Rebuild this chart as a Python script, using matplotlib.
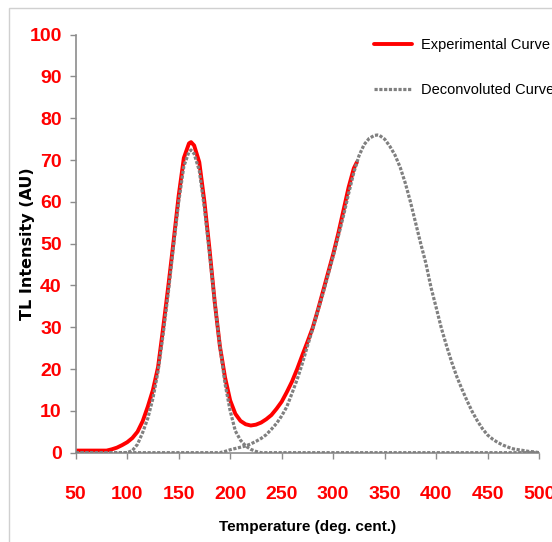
import matplotlib
matplotlib.use('Agg')
import matplotlib.pyplot as plt
from matplotlib.patches import Rectangle

# --- data ---
temp_exp = [50, 80, 85, 90, 95, 100, 105, 110, 115, 120, 125, 130, 135, 140, 145,
            150, 155, 160, 162, 165, 170, 175, 180, 185, 190, 195, 200, 205, 210,
            215, 220, 225, 230, 235, 240, 245, 250, 255, 260, 265, 270, 275, 280,
            285, 290, 295, 300, 305, 310, 315, 320, 323]
tl_exp = [0.5, 0.5, 0.8, 1.2, 1.8, 2.5, 3.5, 5.0, 7.5, 11.0, 15.0, 20.5, 30.0, 40.0, 50.5,
          61.5, 70.5, 74.0, 74.3, 73.5, 69.5, 60.0, 48.5, 36.0, 25.5, 18.0, 12.5, 9.3, 7.6,
          6.8, 6.5, 6.7, 7.2, 8.0, 9.0, 10.5, 12.2, 14.5, 17.0, 20.0, 23.3, 26.5, 29.8,
          34.0, 38.5, 43.0, 47.5, 52.5, 58.0, 63.5, 68.0, 69.5]

temp_peak1 = [50, 100, 105, 110, 115, 120, 125, 130, 135, 140, 145, 150, 155, 160, 162,
              165, 170, 175, 180, 185, 190, 195, 200, 205, 210, 215, 220, 225, 230, 500]
tl_peak1 = [0, 0, 0.5, 2.0, 4.8, 8.2, 13.0, 19.5, 28.5, 38.5, 49.5, 60.0, 68.5, 72.0, 72.4,
            71.5, 67.5, 58.5, 47.5, 36.0, 25.5, 16.5, 10.0, 5.2, 3.0, 1.6, 0.8, 0.3, 0, 0]

temp_peak2 = [50, 190, 195, 200, 205, 210, 215, 220, 225, 230, 235, 240, 245, 250, 255,
              260, 265, 270, 275, 280, 285, 290, 295, 300, 305, 310, 315, 320, 325, 330,
              335, 340, 343, 345, 350, 355, 360, 365, 370, 375, 380, 385, 390, 395, 400,
              405, 410, 415, 420, 425, 430, 435, 440, 445, 450, 455, 460, 465, 470, 475,
              480, 485, 490, 495, 500]
tl_peak2 = [0, 0, 0.3, 0.7, 1.0, 1.3, 1.6, 2.1, 2.7, 3.4, 4.3, 5.6, 7.0, 8.8, 11.0,
            14.2, 17.5, 21.3, 25.5, 29.5, 33.8, 38.0, 42.5, 47.0, 51.8, 56.7, 62.0, 67.0, 71.0, 73.7,
            75.2, 75.9, 76.0, 75.9, 75.0, 73.3, 71.2, 68.3, 64.5, 60.0, 55.0, 50.0, 45.3, 39.5, 34.7,
            29.8, 25.6, 21.7, 18.2, 15.2, 12.4, 9.8, 7.6, 5.7, 4.2, 3.2, 2.4, 1.8, 1.3, 0.9,
            0.7, 0.5, 0.3, 0.2, 0]

x_ticks = [50, 100, 150, 200, 250, 300, 350, 400, 450, 500]
y_ticks = [0, 10, 20, 30, 40, 50, 60, 70, 80, 90, 100]

font = ['Liberation Sans', 'DejaVu Sans']
grey = '#808080'
axis_grey = '#8c8c8c'

fig = plt.figure(figsize=(5.52, 5.42), dpi=100)
ax = fig.add_axes([0.1371, 0.1648, 0.8397, 0.7712])

# light frame around the chart area
fig.patches.append(Rectangle((9 / 552, -0.1), 1.2, (542 - 8) / 542 + 0.1,
                             transform=fig.transFigure, fill=False,
                             edgecolor='#d0d0d0', linewidth=1.0))

ax.plot(temp_exp, tl_exp, color='red', linewidth=2.8, solid_capstyle='round',
        label='Experimental Curve', zorder=2)
ax.plot(temp_peak1, tl_peak1, color=grey, linewidth=2.3, linestyle=(0, (1, 0.5)),
        label='Deconvoluted Curve', zorder=3)
ax.plot(temp_peak2, tl_peak2, color=grey, linewidth=2.3, linestyle=(0, (1, 0.5)), zorder=3)

ax.set_xlim(50, 500)
ax.set_ylim(0, 100)
ax.set_xticks(x_ticks)
ax.set_yticks(y_ticks)

for s in ['top', 'right']:
    ax.spines[s].set_visible(False)
for s in ['left', 'bottom']:
    ax.spines[s].set_color(axis_grey)
    ax.spines[s].set_linewidth(1.2)

ax.tick_params(axis='both', direction='out', length=4, width=1.0, color=axis_grey,
               labelcolor='red', labelsize=14)
ax.tick_params(axis='x', pad=20)
ax.tick_params(axis='y', pad=6)
for lab in ax.get_xticklabels() + ax.get_yticklabels():
    lab.set_family(font)
    lab.set_fontweight('bold')

ax.set_xlabel('Temperature (deg. cent.)', family=font, fontweight='bold',
              fontsize=11, labelpad=12)
ax.set_ylabel('TL Intensity (AU)', family='DejaVu Sans', fontweight='bold',
              fontsize=11.5)
ax.yaxis.set_label_coords(-0.088, 0.5)

leg = ax.legend(loc='upper left', bbox_to_anchor=(374 / 552, 1 - 38 / 542),
                bbox_transform=fig.transFigure, frameon=False,
                prop={'family': font, 'size': 10.5}, handlelength=2.6,
                handletextpad=0.6, labelspacing=2.1, borderaxespad=0,
                borderpad=0)

fig.savefig('out.png', dpi=100)
